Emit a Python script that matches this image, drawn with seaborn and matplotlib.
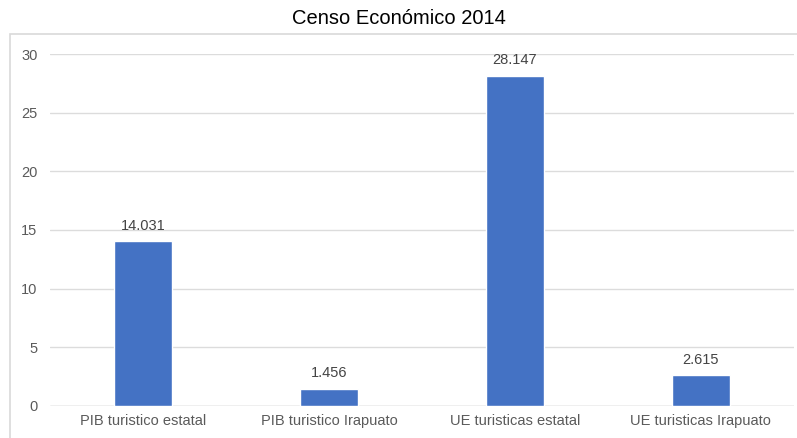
import matplotlib
matplotlib.use('Agg')
import pandas as pd
import seaborn as sns
import matplotlib.pyplot as plt
from matplotlib.patches import Rectangle

categories = ['PIB turistico estatal', 'PIB turistico Irapuato',
              'UE turisticas estatal', 'UE turisticas Irapuato']
values = [14.031, 1.456, 28.147, 2.615]
value_labels = ['14.031', '1.456', '28.147', '2.615']
y_ticks = [0, 5, 10, 15, 20, 25, 30]

df = pd.DataFrame({'Categoria': categories, 'Valor': values})

sns.set_style('white')
plt.rcParams['font.family'] = ['Liberation Sans', 'DejaVu Sans']

fig = plt.figure(figsize=(7.97, 4.38), dpi=100)
ax = fig.add_axes([0.0627, 0.0731, 0.9333, 0.8036])

# light frame around the chart area
fig.patches.append(Rectangle((10 / 797, -0.05), 1.0, 1 - 34 / 438 + 0.05,
                             transform=fig.transFigure, fill=False,
                             edgecolor='#d9d9d9', linewidth=1.2, zorder=0))

sns.barplot(x='Categoria', y='Valor', data=df, color='#4472C4',
            width=0.31, saturation=1, ax=ax, zorder=3)

for i, (v, lab) in enumerate(zip(values, value_labels)):
    ax.text(i, v + 0.75, lab, ha='center', va='bottom', fontsize=10.5, color='#444444')

ax.set_ylim(0, 30)
ax.set_xlim(-0.5, 3.5)
ax.set_yticks(y_ticks)
ax.yaxis.grid(True, color='#dcdcdc', linewidth=1)
ax.set_axisbelow(True)
for s in ax.spines.values():
    s.set_visible(False)
ax.axhline(0, color='#cfcfcf', linewidth=1, zorder=2)
ax.set_xlabel('')
ax.set_ylabel('')
ax.tick_params(axis='both', length=0, labelsize=10.5, labelcolor='#5a5a5a')
ax.tick_params(axis='y', pad=9)
ax.tick_params(axis='x', pad=6)

fig.text(0.5, 1 - 18 / 438, 'Censo Económico 2014', ha='center', va='center',
         fontsize=14.5, color='black')

fig.savefig('out.png', dpi=100)
